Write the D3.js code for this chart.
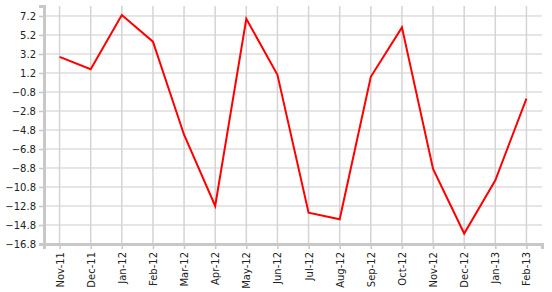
<!DOCTYPE html>
<html>
<head>
<meta charset="utf-8">
<script src="https://cdn.jsdelivr.net/npm/d3@7"></script>
<style>
  body { margin: 0; background: #fff; }
  text { font-family: "DejaVu Sans", Verdana, sans-serif; font-size: 10px; fill: #222; }
</style>
</head>
<body>
<div id="chart"></div>
<script>
// months on the x axis
const months = ["Nov-11", "Dec-11", "Jan-12", "Feb-12", "Mar-12", "Apr-12", "May-12", "Jun-12",
                "Jul-12", "Aug-12", "Sep-12", "Oct-12", "Nov-12", "Dec-12", "Jan-13", "Feb-13"];
// values
const values = [2.9, 1.6, 7.3, 4.5, -5.3, -12.8, 6.9, 1.0, -13.5, -14.2, 0.8, 6.0, -8.9, -15.7, -10.1, -1.5];
// tick labels on the y axis
const yTicks = [7.2, 5.2, 3.2, 1.2, -0.8, -2.8, -4.8, -6.8, -8.8, -10.8, -12.8, -14.8, -16.8];

const svg = d3.select("#chart").append("svg").attr("width", 552).attr("height", 292);
const margin = { top: 6, right: 10, bottom: 48, left: 44 };
const width = 552 - margin.left - margin.right;
const height = 292 - margin.top - margin.bottom;

const g = svg.append("g").attr("transform", `translate(${margin.left},${margin.top})`);

const x = d3.scalePoint().domain(months).range([0, width]).padding(0.5);
const y = d3.scaleLinear().domain([-16.8, 8.25]).range([height, 0]);

// grid
g.append("g").selectAll("line").data(yTicks).enter().append("line")
    .attr("x1", 0).attr("x2", width)
    .attr("y1", d => y(d)).attr("y2", d => y(d))
    .attr("stroke", "#cccccc").attr("stroke-width", 1);

g.append("g").selectAll("line").data(months).enter().append("line")
    .attr("x1", d => x(d)).attr("x2", d => x(d))
    .attr("y1", 0).attr("y2", height)
    .attr("stroke", "#d4d4d4").attr("stroke-width", 1.5);

// axes
const yAxis = g.append("g").call(d3.axisLeft(y).tickValues(yTicks).tickFormat(d3.format(".1f")).tickSize(5).tickPadding(3));
const xAxis = g.append("g").attr("transform", `translate(0,${height})`)
    .call(d3.axisBottom(x).tickSize(5).tickPadding(4));

[yAxis, xAxis].forEach(a => {
    a.select(".domain").attr("stroke", "#c8c8c8").attr("stroke-width", 3);
    a.selectAll(".tick line").attr("stroke", "#c8c8c8").attr("stroke-width", 1.5);
    a.selectAll("text").style("font-size", "10px").attr("fill", "#222");
});

yAxis.selectAll("text").text(d => d3.format(".1f")(d).replace("-", "-"));

xAxis.selectAll("text")
    .attr("transform", "rotate(-90)")
    .attr("x", -8).attr("y", 0).attr("dy", "0.35em")
    .style("text-anchor", "end");

// line
const line = d3.line().x((d, i) => x(months[i])).y(d => y(d));
g.append("path")
    .datum(values)
    .attr("fill", "none")
    .attr("stroke", "#ff0000")
    .attr("stroke-width", 2)
    .attr("d", line);
</script>
</body>
</html>
